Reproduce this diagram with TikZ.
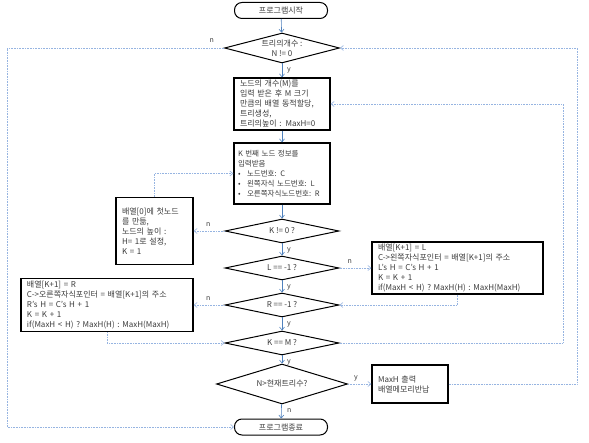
\documentclass[tikz,border=0pt]{standalone}
\usepackage{fontspec}
\setmainfont{Noto Sans CJK KR}
\usetikzlibrary{arrows.meta,positioning,shapes.geometric}
\definecolor{flowblue}{RGB}{79,129,189}
\definecolor{backblue}{RGB}{150,180,225}
\definecolor{txtgray}{RGB}{60,60,60}

\begin{document}
\begin{tikzpicture}[x=1pt,y=-1pt,font=\fontsize{8}{10}\selectfont,
  term/.style={draw,line width=1pt,rounded corners=7.5pt,minimum width=93pt,
               minimum height=16pt,inner sep=0pt,text=txtgray},
  dec/.style={diamond,draw,line width=1pt,aspect=4,inner sep=0pt,align=center,
              text=txtgray},
  proc/.style={draw,line width=1.4pt,align=left,inner xsep=6pt,inner ysep=0pt,
               text=txtgray},
  flow/.style={draw=flowblue,line width=0.6pt,-{Straight Barb[length=3pt,width=5pt]}},
  back/.style={flow,draw=backblue,densely dotted},
  yn/.style={font=\fontsize{7}{8}\selectfont,text=txtgray,inner sep=0pt}]
\fill[white] (0,0) rectangle (589,443);
\useasboundingbox (0,0) rectangle (589,443);

\node[term] (start) at (281,10.5) {프로그램시작};
\node[dec,minimum width=115pt,minimum height=30pt] (ntree) at (282,48) {트리의개수 :\\N != 0};
\node[proc,text width=84pt,minimum height=52pt] (box1) at (282,104)
  {노드의 개수(M)를\\입력 받은 후 M 크기\\만큼의 배열 동적할당,\\트리생성,\\트리의높이 : MaxH=0};
\node[proc,text width=88pt,inner xsep=4pt,minimum height=61pt,
      font=\fontsize{7.5}{10}\selectfont] (box2) at (282,173.5)
  {K 번째 노드 정보를\\입력받음\\
   \makebox[9pt][l]{\textbullet}노드번호: C\\
   \makebox[9pt][l]{\textbullet}왼쪽자식 노드번호: L\\
   \makebox[9pt][l]{\textbullet}오른쪽자식노드번호: R};
\node[dec,minimum width=114pt,minimum height=24pt] (kzero) at (282,231) {K != 0 ?};
\node[proc,text width=65pt,minimum height=67pt] (first) at (154.5,231)
  {배열[0]에 첫노드\\를 만듦,\\노드의 높이 :\\H= 1로 설정,\\K = 1};
\node[dec,minimum width=114pt,minimum height=24pt] (lneg) at (282,268) {L == -1 ?};
\node[proc,text width=159pt,minimum height=52pt] (lbox) at (457.5,268)
  {배열[K+1] = L\\C->왼쪽자식포인터 = 배열[K+1]의 주소\\L's H = C's H + 1\\K = K + 1\\if(MaxH < H) ? MaxH(H) : MaxH(MaxH)};
\node[dec,minimum width=114pt,minimum height=24pt] (rneg) at (282,305) {R == -1 ?};
\node[proc,text width=160pt,minimum height=53pt] (rbox) at (107,305)
  {배열[K+1] = R\\C->오른쪽자식포인터 = 배열[K+1]의 주소\\R's H = C's H + 1\\K = K + 1\\if(MaxH < H) ? MaxH(H) : MaxH(MaxH)};
\node[dec,minimum width=114pt,minimum height=24pt] (kend) at (282,343) {K == M ?};
\node[dec,minimum width=131pt,minimum height=40pt] (more) at (282,384) {N>현재트리수?};
\node[proc,text width=64pt,minimum height=38pt] (outbox) at (410,384) {MaxH 출력\\배열메모리반납};
\node[term] (finish) at (281,427) {프로그램종료};

\coordinate (lside) at (7,0);
\coordinate (rin) at (563,0);
\coordinate (rout) at (577,0);

\draw[flow] (start) -- (ntree);
\draw[flow] (ntree) -- (box1);
\draw[flow] (box1) -- (box2);
\draw[flow] (box2) -- (kzero);
\draw[flow] (kzero) -- (lneg);
\draw[flow] (lneg) -- (rneg);
\draw[flow] (rneg) -- (kend);
\draw[flow] (kend) -- (more);
\draw[flow] (more) -- (finish);

\draw[back] (ntree.west) -- (ntree.west -| lside) |- (finish.west);
\draw[back] (kzero.west) -- (first.east);
\draw[back] (first.north) |- (box2.west);
\draw[back] (lneg.east) -- (lbox.west);
\draw[back] (lbox.south) |- (rneg.east);
\draw[back] (rneg.west) -- (rbox.east);
\draw[back] (rbox.south) |- (kend.west);
\draw[back] (kend.east) -- (kend.east -| rin) |- (box1.east);
\draw[back] (more.east) -- (outbox.west);
\draw[back] (outbox.east) -- (outbox.east -| rout) |- (ntree.east);

\node[yn,above left=5pt and 10pt of ntree.west] {n};
\node[yn,below right=4pt and 5pt of ntree.south] {y};
\node[yn,above left=4pt and 14pt of kzero.west] {n};
\node[yn,below right=4pt and 5pt of kzero.south] {y};
\node[yn,above right=4pt and 8pt of lneg.east] {n};
\node[yn,below right=4pt and 5pt of lneg.south] {y};
\node[yn,above left=4pt and 14pt of rneg.west] {n};
\node[yn,below right=4pt and 5pt of rneg.south] {y};
\node[yn,below right=4pt and 5pt of kend.south] {y};
\node[yn,above right=3pt and 6pt of more.east] {y};
\node[yn,below right=4pt and 5pt of more.south] {n};
\end{tikzpicture}
\end{document}
